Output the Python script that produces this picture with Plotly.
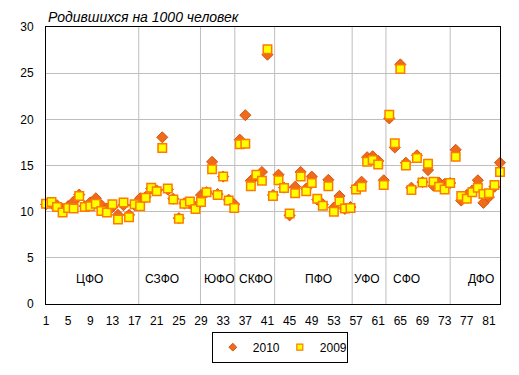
import plotly.graph_objects as go

regions = list(range(1, 84))

births_2010 = [10.8, 10.9, 10.7, 10.3, 10.6, 11.1, 11.85, 10.6, 11.0, 11.45,
               10.7, 10.35, 10.5, 9.65, 10.7, 9.65, 10.7, 11.45, 11.6, 12.5,
               12.3, 18.05, 12.4, 11.4, 9.3, 10.9, 10.9, 10.5, 11.8, 12.1,
               15.4, 11.9, 13.8, 11.3, 10.8, 17.8, 20.45, 13.35, 13.9, 14.3,
               27.0, 11.8, 14.0, 12.6, 9.6, 12.7, 14.3, 12.5, 13.8, 11.3,
               10.8, 13.45, 10.45, 11.7, 10.3, 10.5, 12.6, 13.25, 15.9, 16.0,
               15.5, 13.4, 20.1, 16.95, 25.95, 15.3, 12.6, 16.1, 13.2, 14.5,
               12.8, 13.15, 13.0, 13.1, 16.7, 11.2, 11.8, 12.3, 13.4, 10.95,
               11.6, 12.7, 15.3]

births_2009 = [10.85, 11.05, 10.5, 9.9, 10.4, 10.35, 11.7, 10.5, 10.6, 10.85,
               10.07, 9.9, 10.8, 9.16, 11.0, 9.4, 10.8, 10.6, 11.5, 12.6,
               12.2, 16.9, 12.5, 11.33, 9.23, 10.85, 11.1, 10.28, 11.05, 12.1,
               14.6, 11.8, 13.8, 11.2, 10.4, 17.3, 17.35, 12.75, 14.0, 13.35,
               27.6, 11.7, 13.4, 12.55, 9.8, 12.0, 13.8, 12.2, 13.1, 11.4,
               10.65, 12.75, 10.0, 11.1, 10.35, 10.4, 12.4, 12.7, 15.4, 15.6,
               15.1, 12.9, 20.5, 17.4, 25.45, 15.0, 12.35, 15.8, 13.15, 15.2,
               13.25, 12.7, 12.4, 13.1, 15.95, 11.7, 11.4, 12.1, 12.6, 11.9,
               12.0, 12.9, 14.3]

district_names = ["ЦФО", "СЗФО", "ЮФО", "СКФО", "ПФО", "УФО", "СФО", "ДФО"]
district_label_x = [8.9, 22.0, 32.3, 38.9, 50.3, 59.0, 66.1, 79.6]
district_bounds = [17.75, 28.9, 35.1, 42.3, 56.3, 62.4, 74.0]

x_ticks = list(range(1, 84, 4))
y_ticks = [0, 5, 10, 15, 20, 25, 30]

FONT = "Liberation Sans, Arial, sans-serif"
DIAMOND_FILL = "#EE6A1C"
DIAMOND_LINE = "#D9540A"
SQUARE_FILL = "#FFFF00"
SQUARE_LINE = "#FF7A00"

fig = go.Figure()

fig.add_trace(go.Scatter(
    x=regions, y=births_2010, mode="markers", name="2010",
    showlegend=False, cliponaxis=False,
    marker=dict(symbol="diamond", size=8.5, color=DIAMOND_FILL,
                line=dict(color=DIAMOND_LINE, width=1)),
))
fig.add_trace(go.Scatter(
    x=regions, y=births_2009, mode="markers", name="2009",
    showlegend=False, cliponaxis=False,
    marker=dict(symbol="square", size=8.5, color=SQUARE_FILL,
                line=dict(color=SQUARE_LINE, width=1.5)),
))
# legend entries (small symbols)
fig.add_trace(go.Scatter(
    x=[None], y=[None], mode="markers", name="2010",
    marker=dict(symbol="diamond", size=6, color=DIAMOND_FILL,
                line=dict(color=DIAMOND_LINE, width=1)),
))
fig.add_trace(go.Scatter(
    x=[None], y=[None], mode="markers", name="2009",
    marker=dict(symbol="square", size=6, color=SQUARE_FILL,
                line=dict(color=SQUARE_LINE, width=1.2)),
))

for b in district_bounds:
    fig.add_shape(type="line", x0=b, x1=b, y0=0, y1=30, xref="x", yref="y",
                  line=dict(color="#BEBEBE", width=1), layer="below")

for name, xv in zip(district_names, district_label_x):
    fig.add_annotation(x=xv, y=2.7, text=name, showarrow=False,
                       font=dict(family=FONT, size=12, color="black"))

fig.add_annotation(x=0.0, y=1.0, xref="paper", yref="paper",
                   xanchor="left", yanchor="bottom", yshift=0,
                   text="<i>Родившихся на 1000 человек</i>", showarrow=False,
                   font=dict(family=FONT, size=14, color="black"))

# page body has an 8px margin: size the figure so the plot area lands where the reference has it
fig.update_layout(
    width=511, height=367,
    margin=dict(l=30, r=19, t=18, b=63),
    paper_bgcolor="white", plot_bgcolor="white",
    font=dict(family=FONT, size=12, color="black"),
    showlegend=True,
    legend=dict(orientation="h", x=0.515, y=-0.1, xanchor="center", yanchor="top",
                bordercolor="black", borderwidth=1, bgcolor="white",
                font=dict(family=FONT, size=12), entrywidth=22,
                tracegroupgap=0, itemwidth=30),
)
fig.update_xaxes(range=[1, 83], tickmode="array", tickvals=x_ticks,
                 ticktext=[str(t) for t in x_ticks],
                 showgrid=False, zeroline=False,
                 showline=True, linecolor="black", linewidth=1, mirror=True,
                 ticks="outside", ticklen=6, tickcolor="rgba(0,0,0,0)")
fig.update_yaxes(range=[0, 30], tickvals=y_ticks,
                 showgrid=True, gridcolor="#BEBEBE", gridwidth=1, zeroline=False,
                 showline=True, linecolor="black", linewidth=1, mirror=True,
                 ticks="outside", ticklen=9, tickcolor="rgba(0,0,0,0)")

fig.write_html("out.html")
